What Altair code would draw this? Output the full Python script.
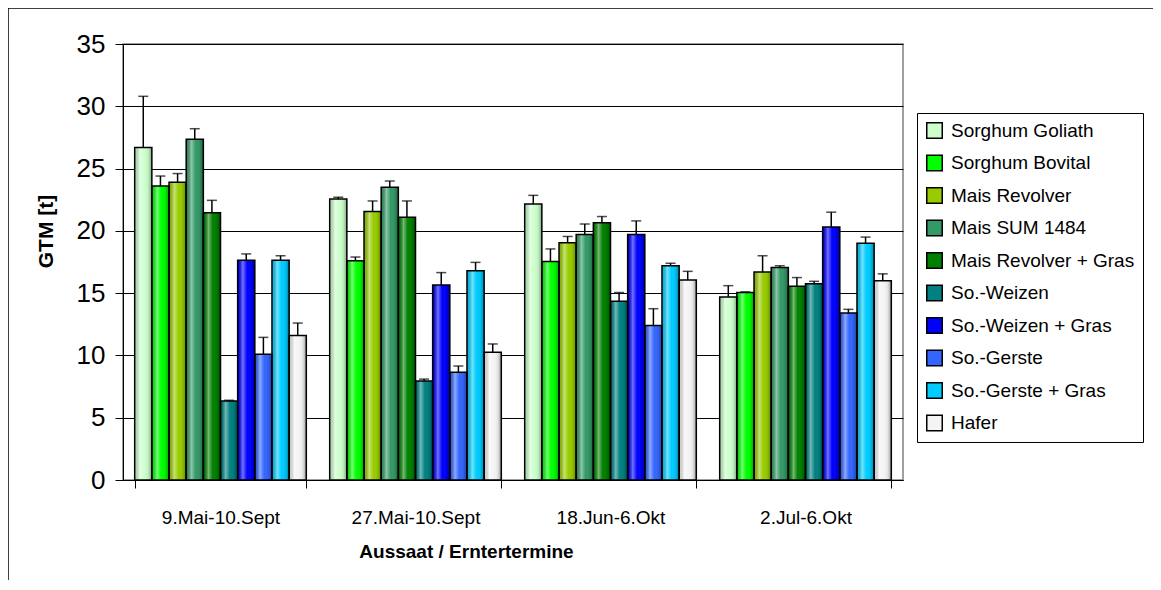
import altair as alt
import pandas as pd

dates = ["9.Mai-10.Sept", "27.Mai-10.Sept", "18.Jun-6.Okt", "2.Jul-6.Okt"]
series = ["Sorghum Goliath", "Sorghum Bovital", "Mais Revolver", "Mais SUM 1484",
          "Mais Revolver + Gras", "So.-Weizen", "So.-Weizen + Gras", "So.-Gerste",
          "So.-Gerste + Gras", "Hafer"]
colors = ["#CCFFCC", "#00FF00", "#99CC00", "#339966", "#008000",
          "#008080", "#0000FF", "#3366FF", "#00CCFF", "#F4F4F4"]

# mean values per series (rows) for each date (columns)
means = [
    [26.7, 22.55, 22.15, 14.7],
    [23.6, 17.6, 17.55, 15.05],
    [23.9, 21.55, 19.05, 16.7],
    [27.35, 23.5, 19.7, 17.05],
    [21.45, 21.1, 20.65, 15.55],
    [6.35, 7.95, 14.35, 15.75],
    [17.65, 15.65, 19.7, 20.3],
    [10.1, 8.65, 12.4, 13.4],
    [17.65, 16.8, 17.2, 19.0],
    [11.6, 10.25, 16.05, 16.0],
]
errors = [
    [4.1, 0.15, 0.7, 0.9],
    [0.8, 0.3, 1.0, 0.05],
    [0.7, 0.85, 0.5, 1.3],
    [0.85, 0.5, 0.85, 0.15],
    [1.0, 1.3, 0.5, 0.7],
    [0.05, 0.15, 0.7, 0.2],
    [0.5, 1.0, 1.1, 1.2],
    [1.35, 0.5, 1.35, 0.3],
    [0.35, 0.67, 0.2, 0.5],
    [1.0, 0.67, 0.7, 0.55],
]

rows = []
for si, s in enumerate(series):
    for di, d in enumerate(dates):
        m = means[si][di]
        e = errors[si][di]
        rows.append({"date": d, "series": s, "value": m, "top": m + e})
df = pd.DataFrame(rows)

FONT = "Liberation Sans"

x_enc = alt.X("date:N", sort=dates,
              scale=alt.Scale(paddingInner=0.12, paddingOuter=0.06),
              axis=alt.Axis(title="Aussaat / Erntertermine", labelAngle=0,
                            labelFontSize=19, labelPadding=20, tickBand="extent",
                            tickSize=8, tickColor="black", domainColor="black",
                            titleFontSize=19, titleFontWeight="bold", titlePadding=15,
                            titleX=343, titleAnchor="start", titleAlign="center",
                            labelColor="black", titleColor="black"))
xo_enc = alt.XOffset("series:N", sort=series, scale=alt.Scale(paddingInner=0, paddingOuter=0))

base = alt.Chart(df)

bars = base.mark_bar(strokeWidth=0).encode(
    x=x_enc,
    xOffset=xo_enc,
    y=alt.Y("value:Q", scale=alt.Scale(domain=[0, 35]),
            axis=alt.Axis(title="GTM [t]", values=[0, 5, 10, 15, 20, 25, 30, 35],
                          labelFontSize=26, labelPadding=10, tickSize=8,
                          tickColor="black", domainColor="black", gridColor="black",
                          gridWidth=1, titleFontSize=21, titleFontWeight="bold",
                          titlePadding=20, titleY=187, titleAlign="center",
                          labelColor="black", titleColor="black")),
    color=alt.Color("series:N", sort=series,
                    scale=alt.Scale(domain=series, range=colors),
                    legend=alt.Legend(title=None, orient="none", legendX=794, legendY=69,
                                      strokeColor="black", padding=8, fillColor="white",
                                      labelFontSize=19, labelFont=FONT, labelColor="black",
                                      symbolType="square", symbolSize=240,
                                      symbolStrokeColor="black", symbolStrokeWidth=1.5,
                                      rowPadding=9.5, labelOffset=7, labelLimit=400)),
)

shade = base.mark_bar(
    stroke="black", strokeWidth=1.5,
    fill=alt.Gradient(gradient="linear", x1=0, x2=1, y1=0, y2=0,
                      stops=[alt.GradientStop(offset=0, color="rgba(0,0,0,0.12)"),
                             alt.GradientStop(offset=0.3, color="rgba(255,255,255,0.45)"),
                             alt.GradientStop(offset=0.55, color="rgba(255,255,255,0)"),
                             alt.GradientStop(offset=0.8, color="rgba(0,0,0,0.08)"),
                             alt.GradientStop(offset=1, color="rgba(0,0,0,0.35)")]),
).encode(x=x_enc, xOffset=xo_enc, y="value:Q")

err_rule = base.mark_rule(color="black", strokeWidth=1.5).encode(
    x=x_enc, xOffset=xo_enc, y="value:Q", y2="top:Q")
err_cap = base.mark_tick(color="black", thickness=1.5, size=10, orient="horizontal").encode(
    x=x_enc, xOffset=xo_enc, y="top:Q")

frame = alt.Chart(pd.DataFrame({"k": [0]})).mark_rule(color="black", strokeWidth=1.5)
frame_top = frame.encode(x=alt.value(-115), x2=alt.value(1030), y=alt.value(-36))
frame_left = frame.encode(x=alt.value(-115), y=alt.value(-36), y2=alt.value(536))

chart = alt.layer(bars, shade, err_rule, err_cap, frame_top, frame_left).properties(
    width=780, height=436,
    autosize=alt.AutoSizeParams(type="none"),
    padding={"left": 115, "top": 36, "right": 250, "bottom": 100},
).configure(font=FONT).configure_view(stroke="#808080", strokeWidth=1.5)

chart.save("out.html", embed_options={"renderer": "svg", "actions": False})
